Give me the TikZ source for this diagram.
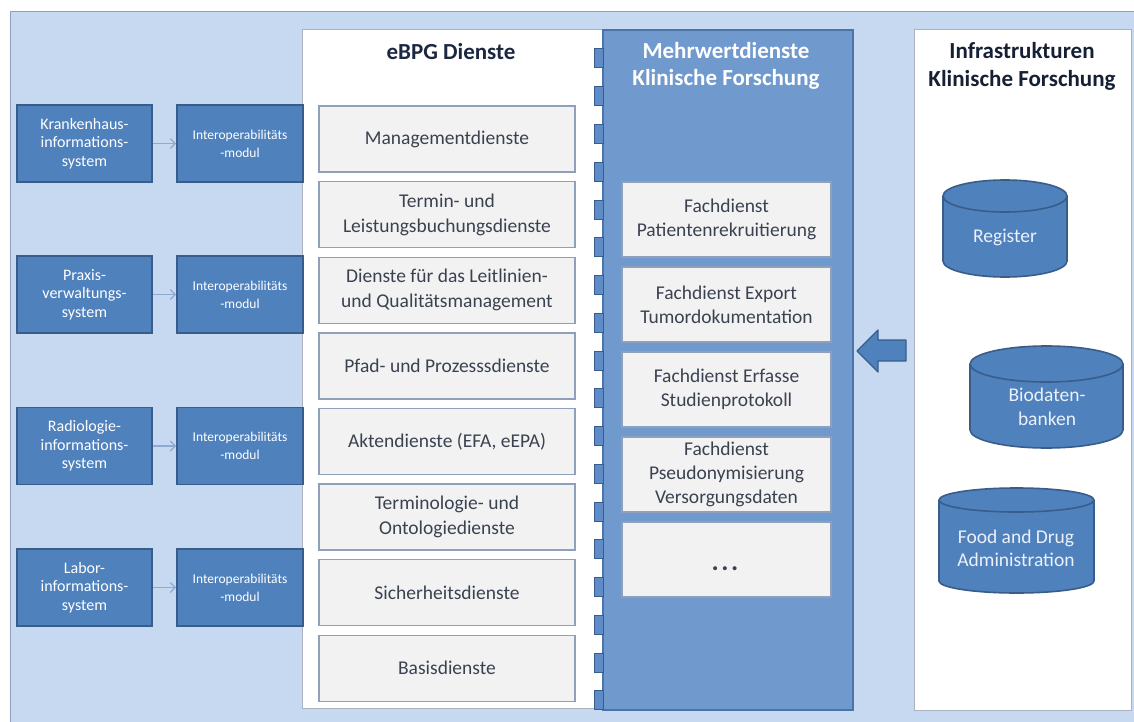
\documentclass[tikz,border=0pt]{standalone}
\usepackage{fontspec}
\setmainfont{Carlito}
\usetikzlibrary{arrows.meta}
\definecolor{bgl}{RGB}{198,217,240}
\definecolor{bgline}{RGB}{140,162,192}
\definecolor{dbox}{RGB}{79,129,189}
\definecolor{dline}{RGB}{56,93,138}
\definecolor{bpanel}{RGB}{112,153,206}
\definecolor{bpline}{RGB}{74,116,170}
\definecolor{stubfill}{RGB}{95,140,200}
\definecolor{gbox}{RGB}{242,242,242}
\definecolor{gline}{RGB}{143,160,186}
\definecolor{gtext}{RGB}{58,66,80}
\definecolor{navy}{RGB}{28,40,66}
\definecolor{alink}{RGB}{140,170,210}
\definecolor{pline}{RGB}{170,178,190}
\definecolor{cyltext}{RGB}{236,241,249}
\newcommand\dbcyl[5]{%
  \pgfmathsetmacro\cylcx{(#1+#2)/2}%
  \pgfmathsetmacro\cylrx{(#2-#1)/2}%
  \pgfmathsetmacro\cylya{#3+#5}%
  \pgfmathsetmacro\cylyb{#4-#5}%
  \fill[dbox] (#1,\cylya) rectangle (#2,\cylyb);
  \fill[dbox] (\cylcx,\cylyb) ellipse [x radius=\cylrx pt, y radius=#5 pt];
  \draw[dline,line width=1.6pt] (#1,\cylya) -- (#1,\cylyb) (#2,\cylya) -- (#2,\cylyb);
  \begin{scope}
    \clip (#1-3,\cylyb) rectangle (#2+3,#4+3);
    \draw[dline,line width=1.6pt] (\cylcx,\cylyb) ellipse [x radius=\cylrx pt, y radius=#5 pt];
  \end{scope}
  \filldraw[fill=dbox,draw=dline,line width=1.6pt] (\cylcx,\cylya) ellipse [x radius=\cylrx pt, y radius=#5 pt];
}
\begin{document}
\begin{tikzpicture}[x=1pt,y=-1pt,
  sysbox/.style={draw=dline,line width=1.8pt,fill=dbox,text=white,align=center,inner sep=0pt,
    minimum width=135pt,minimum height=77pt,font=\fontsize{16}{18.5}\selectfont},
  iobox/.style={draw=dline,line width=1.8pt,fill=dbox,text=white,align=center,inner sep=0pt,
    minimum width=126pt,minimum height=77pt,font=\fontsize{13.5}{18}\selectfont},
  svcbox/.style={draw=gline,line width=1.4pt,fill=gbox,text=gtext,align=center,inner sep=0pt,
    minimum width=256pt,minimum height=66pt,font=\fontsize{19.5}{25}\selectfont},
  mwbox/.style={draw=gline,line width=1.4pt,fill=gbox,text=gtext,align=center,inner sep=0pt,
    minimum width=209pt,minimum height=75pt,font=\fontsize{19.5}{24}\selectfont},
  stubbox/.style={draw=dline,line width=1pt,fill=stubfill,inner sep=0pt,minimum width=9pt,minimum height=19pt},
  cyllabel/.style={text=cyltext,align=center,inner sep=0pt,font=\fontsize{19.5}{23.5}\selectfont},
  link/.style={draw=alink,line width=1.2pt,-{Straight Barb[length=5pt,width=10pt]}},
]
\useasboundingbox (0,0) rectangle (1134,722);
% outer background
\fill[bgl] (10,12) rectangle (1140,730);
\draw[bgline,line width=1pt] (1140,12) -- (10,12) -- (10,730);

% panels
\node[draw=pline,line width=1pt,fill=white,minimum width=301pt,minimum height=678pt,inner sep=0pt] (ebpg) at (452.5,369) {};
\node[draw=bpline,line width=1.4pt,fill=bpanel,minimum width=250pt,minimum height=680pt,inner sep=0pt] (mw) at (728,370) {};
\node[draw=pline,line width=1pt,fill=white,minimum width=217pt,minimum height=680pt,inner sep=0pt] (infra) at (1022.5,370) {};

% stubs between eBPG and Mehrwertdienste
\foreach \k in {0,...,17}{
  \node[stubbox] (s\k) at (598.5,58.5+37.75*\k) {};
}

% headers
\node[font=\fontsize{23}{27}\selectfont\bfseries,text=navy] (ebpgh) at (451,52) {eBPG Dienste};
\node[font=\fontsize{23}{27}\selectfont\bfseries,text=white,align=center] (mwh) at (726,65.5) {Mehrwertdienste\\Klinische Forschung};
\node[font=\fontsize{23}{28}\selectfont\bfseries,text=navy!80!black,align=center] (infrah) at (1022,66) {Infrastrukturen\\Klinische Forschung};

% left systems
\node[sysbox] (k1) at (84.5,143.5) {Krankenhaus-\\informations-\\system};
\node[sysbox] (k2) at (84.5,294.5) {Praxis-\\verwaltungs-\\system};
\node[sysbox] (k3) at (84.5,446) {Radiologie-\\informations-\\system};
\node[sysbox] (k4) at (84.5,587.5) {Labor-\\informations-\\system};
\node[iobox] (i1) at (240,143.5) {Interoperabilitäts\\-modul};
\node[iobox] (i2) at (240,294.5) {Interoperabilitäts\\-modul};
\node[iobox] (i3) at (240,446) {Interoperabilitäts\\-modul};
\node[iobox] (i4) at (240,587.5) {Interoperabilitäts\\-modul};
\foreach \n in {1,2,3,4}{
  \draw[link] (k\n.east) -- (i\n.west);
}

% eBPG services
\node[svcbox] (e1) at (447,139) {Managementdienste};
\node[svcbox] (e2) at (447,214.6) {Termin- und\\Leistungsbuchungsdienste};
\node[svcbox] (e3) at (447,290.2) {Dienste für das Leitlinien-\\und Qualitätsmanagement};
\node[svcbox] (e4) at (447,365.8) {Pfad- und Prozesssdienste};
\node[svcbox] (e5) at (447,441.4) {Aktendienste (EFA, eEPA)};
\node[svcbox] (e6) at (447,517) {Terminologie- und\\Ontologiedienste};
\node[svcbox] (e7) at (447,592.6) {Sicherheitsdienste};
\node[svcbox] (e8) at (447,668.2) {Basisdienste};

% Mehrwertdienste
\node[mwbox] (m1) at (726.5,219.5) {Fachdienst\\Patientenrekruitierung};
\node[mwbox] (m2) at (726.5,304.5) {Fachdienst Export\\Tumordokumentation};
\node[mwbox] (m3) at (726.5,389.5) {Fachdienst Erfasse\\Studienprotokoll};
\node[mwbox] (m4) at (726.5,474.5) {Fachdienst\\Pseudonymisierung\\Versorgungsdaten};
\node[mwbox] (m5) at (726.5,559.5) {};
\node[text=gtext,inner sep=0pt,font=\fontsize{27}{30}\selectfont\bfseries] (m5dots) at (725,569) {.\hspace{2.5pt}.\hspace{2.5pt}.};

% block arrow
\filldraw[fill=dbox,draw=dline,line width=1.2pt,line join=round]
  (857,351) -- (878,330) -- (878,340) -- (906,340) -- (906,361) -- (878,361) -- (878,372) -- cycle;

% databases
\dbcyl{943}{1067}{180}{277}{16}
\node[cyllabel] (reg) at (1005,237) {Register};
\dbcyl{970}{1123}{346}{448}{18}
\node[cyllabel] (bio) at (1047,407) {Biodaten-\\banken};
\dbcyl{939}{1094}{488}{593}{12}
\node[cyllabel] (fda) at (1016,548.5) {Food and Drug\\Administration};
\end{tikzpicture}
\end{document}
